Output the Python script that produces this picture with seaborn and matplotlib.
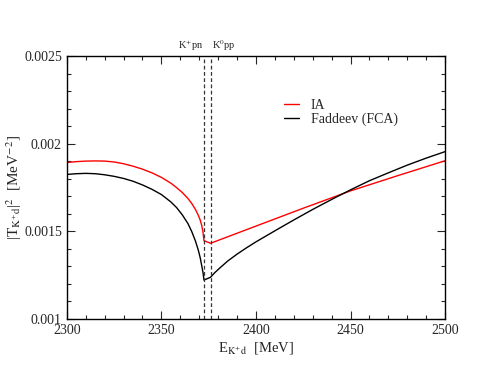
import numpy as np
import pandas as pd
import matplotlib
matplotlib.use("Agg")
import matplotlib.pyplot as plt
from matplotlib.ticker import MultipleLocator
import seaborn as sns

energy_ia = [2300, 2305, 2310, 2315, 2320, 2325, 2330, 2335, 2340, 2345, 2350,
             2355, 2358, 2361, 2364, 2366, 2368, 2369.5, 2370.5, 2371.3, 2372,
             2372.5, 2376, 2400, 2425, 2450, 2475, 2500]
t2_ia = [0.001893, 0.001898, 0.001901, 0.001902, 0.001901, 0.001896, 0.001886,
         0.001872, 0.001855, 0.001834, 0.001808, 0.001775, 0.001750, 0.001722,
         0.001688, 0.001660, 0.001625, 0.001592, 0.001565, 0.001535, 0.001495,
         0.001447, 0.001432, 0.001530, 0.001632, 0.001731, 0.001818, 0.001903]

energy_fca = [2300, 2305, 2310, 2315, 2320, 2325, 2330, 2335, 2340, 2345, 2350,
              2355, 2358, 2361, 2364, 2366, 2368, 2369.5, 2370.5, 2371.3, 2372,
              2372.5, 2376, 2378, 2381, 2385, 2390, 2395, 2400, 2410, 2420,
              2430, 2440, 2450, 2460, 2470, 2480, 2490, 2500]
t2_fca = [0.001825, 0.001829, 0.001831, 0.001829, 0.001823, 0.001814, 0.001802,
          0.001786, 0.001765, 0.001740, 0.001710, 0.001668, 0.001636, 0.001595,
          0.001545, 0.001500, 0.001445, 0.001393, 0.001350, 0.001305, 0.001265,
          0.001222, 0.001238, 0.001262, 0.001292, 0.001330, 0.001370, 0.001406,
          0.001440, 0.001503, 0.001565, 0.001625, 0.001682, 0.001737, 0.001789,
          0.001834, 0.001878, 0.001918, 0.001955]

thresholds = [2372.5, 2376.0]
threshold_labels = [r"K$^{+}$pn", r"K$^{0}$pp"]

sns.set_style("ticks")
plt.rcParams['font.family'] = ['Liberation Serif', 'DejaVu Serif']
plt.rcParams['mathtext.fontset'] = 'stix'

fig = plt.figure(figsize=(4.88, 3.77), dpi=100)
ax = fig.add_axes([0.137, 0.154, 0.775, 0.697])

df_ia = pd.DataFrame({'E': energy_ia, 'T2': t2_ia})
df_fca = pd.DataFrame({'E': energy_fca, 'T2': t2_fca})

sns.lineplot(data=df_ia, x='E', y='T2', ax=ax, color='#ff0000', lw=1.0,
             label='IA', estimator=None, sort=True)
sns.lineplot(data=df_fca, x='E', y='T2', ax=ax, color='black', lw=1.0,
             label='Faddeev (FCA)', estimator=None, sort=True)

# threshold markers
for th in thresholds:
    ax.axvline(th, color='#333333', ls=(0, (3, 2)), lw=0.9)

ax.text(thresholds[0] - 0.5, 0.00252, threshold_labels[0], ha='right', va='bottom', fontsize=7.5)
ax.text(thresholds[1] + 0.5, 0.00252, threshold_labels[1], ha='left', va='bottom', fontsize=7.5)

ax.set_xlim(2300, 2500)
ax.set_ylim(0.001, 0.0025)
ax.xaxis.set_major_locator(MultipleLocator(50))
ax.xaxis.set_minor_locator(MultipleLocator(10))
ax.yaxis.set_minor_locator(MultipleLocator(0.0001))
ax.set_yticks([0.001, 0.0015, 0.002, 0.0025])
ax.set_yticklabels(['0.001', '0.0015', '0.002', '0.0025'])
ax.tick_params(which='both', direction='in', top=True, right=True, labelsize=10)
ax.tick_params(which='major', length=6, width=0.8)
ax.tick_params(which='minor', length=3, width=0.8)
for sp in ax.spines.values():
    sp.set_linewidth(1.0)
    sp.set_color('black')

ax.set_xlabel(r"E$_{\mathrm{K^{+}d}}$  [MeV]", fontsize=10.5, labelpad=2)
ax.set_ylabel(r"|T$_{\mathrm{K^{+}d}}$|$^{2}$  [MeV$^{-2}$]", fontsize=11, labelpad=0)

ax.legend(loc='upper left', bbox_to_anchor=(0.56, 0.86), frameon=False,
          fontsize=10, handlelength=1.1, handletextpad=0.8, labelspacing=0.1,
          borderaxespad=0)

fig.savefig('out.png', dpi=100)
